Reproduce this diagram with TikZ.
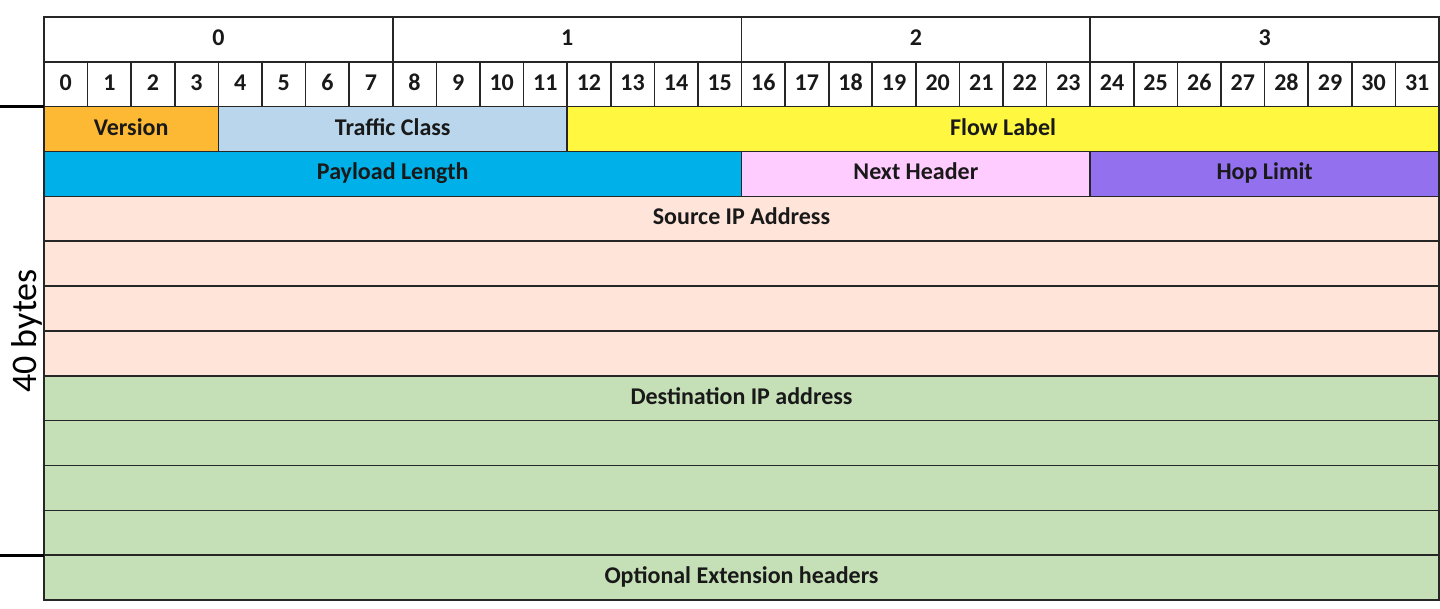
\documentclass[tikz,border=0pt]{standalone}
\usepackage{fontspec}
\setmainfont{Carlito}
\definecolor{cVersion}{HTML}{FDB933}
\definecolor{cTraffic}{HTML}{B9D6EC}
\definecolor{cFlow}{HTML}{FFF740}
\definecolor{cPayload}{HTML}{00B0E8}
\definecolor{cNext}{HTML}{FFCCFF}
\definecolor{cHop}{HTML}{9370EE}
\definecolor{cSrc}{HTML}{FFE4DA}
\definecolor{cDst}{HTML}{C5DFB6}
\begin{document}
\begin{tikzpicture}[x=1pt,y=-1pt,
  cell/.style={draw=black!85, line width=1.6pt, inner sep=0pt, outer sep=0pt,
    anchor=north west, minimum height=44.85pt, text height=17pt, text depth=5pt,
    font=\bfseries\fontsize{24}{28}\selectfont, text=black!90},
  tick/.style={line width=2.6pt, black}]
\useasboundingbox (0,0) rectangle (1440,609);
\def\bw{43.594}
\def\rh{44.85}
% byte numbers
\foreach \b in {0,...,3}
  \node[cell, fill=white, minimum width=8*\bw] (byte\b) at ({44+8*\b*\bw},17) {\b};
% bit numbers
\foreach \i in {0,...,31}
  \node[cell, fill=white, minimum width=\bw] (bit\i) at ({44+\i*\bw},{17+\rh}) {\i};
% first word
\node[cell, fill=cVersion, minimum width=4*\bw] (ver) at (44,{17+2*\rh}) {Version};
\node[cell, fill=cTraffic, minimum width=8*\bw] (tc) at ({44+4*\bw},{17+2*\rh}) {Traffic Class};
\node[cell, fill=cFlow, minimum width=20*\bw] (flow) at ({44+12*\bw},{17+2*\rh}) {Flow Label};
% second word
\node[cell, fill=cPayload, minimum width=16*\bw] (plen) at (44,{17+3*\rh}) {Payload Length};
\node[cell, fill=cNext, minimum width=8*\bw] (nxt) at ({44+16*\bw},{17+3*\rh}) {Next Header};
\node[cell, fill=cHop, minimum width=8*\bw] (hop) at ({44+24*\bw},{17+3*\rh}) {Hop Limit};
% source address
\node[cell, fill=cSrc, minimum width=32*\bw] (src0) at (44,{17+4*\rh}) {Source IP Address};
\foreach \k in {1,2,3}
  \node[cell, fill=cSrc, minimum width=32*\bw] (src\k) at (44,{17+(4+\k)*\rh}) {};
% destination address
\node[cell, fill=cDst, minimum width=32*\bw] (dst0) at (44,{17+8*\rh}) {Destination IP address};
\foreach \k in {1,2,3}
  \node[cell, fill=cDst, minimum width=32*\bw] (dst\k) at (44,{17+(8+\k)*\rh}) {};
% extension headers
\node[cell, fill=cDst, minimum width=32*\bw] (opt) at (44,{17+12*\rh}) {Optional Extension headers};
% header size marker
\coordinate (tickA) at (0,{17+2*\rh});
\coordinate (tickB) at (0,{17+12*\rh});
\draw[tick] (tickA) -- (ver.north west);
\draw[tick] (tickB) -- (opt.north west);
\node[rotate=90, font=\fontsize{36}{40}\selectfont] (size) at (27,331) {40 bytes};
\end{tikzpicture}
\end{document}
